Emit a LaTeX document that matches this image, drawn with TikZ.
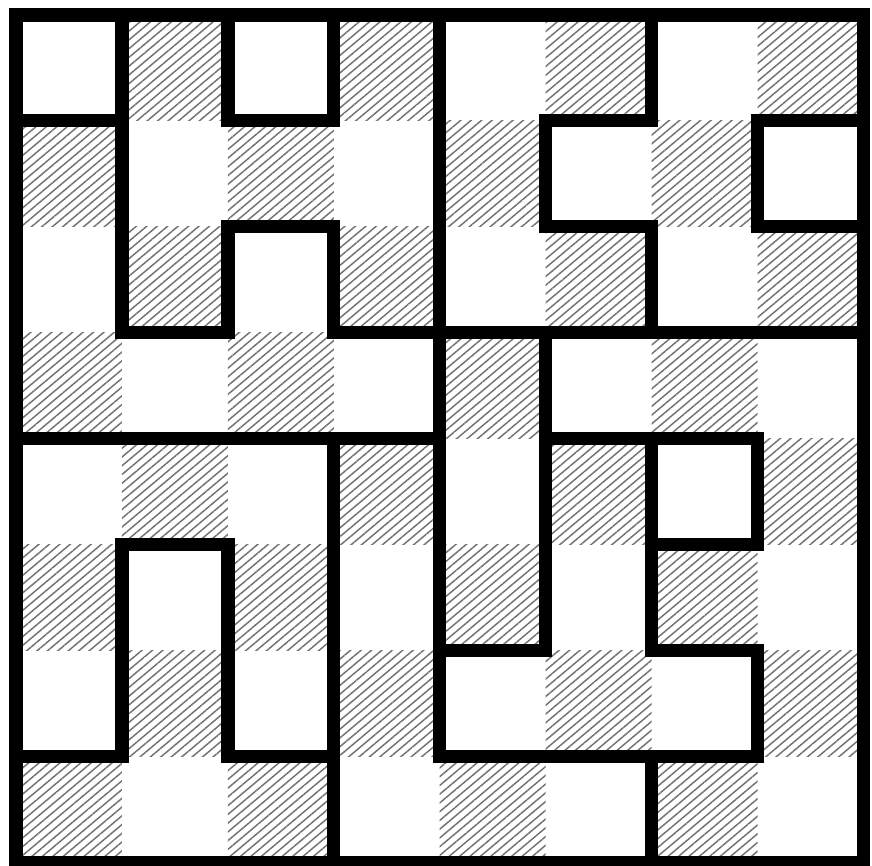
\documentclass[tikz,border=0pt]{standalone}
\usetikzlibrary{patterns.meta}

\begin{document}
\begin{tikzpicture}[hatch/.style={pattern={Lines[angle=40,distance=1.8pt,line width=0.4pt]},pattern color=black!55},
  cut/.style={line width=3.6pt,line join=miter,line cap=rect}]
\useasboundingbox (-0.15,-0.03) rectangle (8.08,8.14);
\foreach \x in {0,...,7}
  \foreach \y in {0,...,7}
    {\pgfmathparse{int(mod(\x+\y,2))}
     \ifnum\pgfmathresult=0 \path[hatch] (\x,\y) rectangle ++(1,1);\fi}
\draw[cut] (0,0) rectangle (8,8);
\draw[cut] (0,7) -- (1,7);
\draw[cut] (1,8) -- (1,5) -- (2,5) -- (2,6) -- (3,6) -- (3,5) -- (8,5);
\draw[cut] (2,8) -- (2,7) -- (3,7) -- (3,8);
\draw[cut] (4,8) -- (4,1) -- (7,1) -- (7,2) -- (6,2) -- (6,4);
\draw[cut] (5,4) -- (7,4) -- (7,3) -- (6,3);
\draw[cut] (5,5) -- (5,2) -- (4,2);
\draw[cut] (0,4) -- (4,4);
\draw[cut] (3,4) -- (3,0);
\draw[cut] (0,1) -- (1,1) -- (1,3) -- (2,3) -- (2,1) -- (3,1);
\draw[cut] (6,8) -- (6,7) -- (5,7) -- (5,6) -- (6,6) -- (6,5);
\draw[cut] (8,7) -- (7,7) -- (7,6) -- (8,6);
\draw[cut] (6,1) -- (6,0);
\end{tikzpicture}
\end{document}
